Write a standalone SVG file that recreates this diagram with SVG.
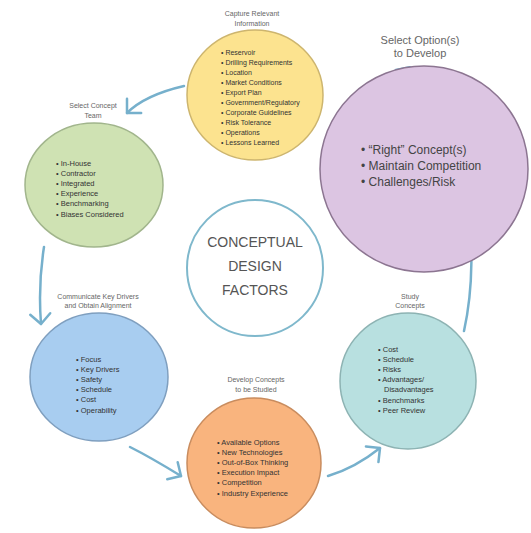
<svg xmlns="http://www.w3.org/2000/svg" width="531" height="533" viewBox="0 0 531 533">
<style>
.lbl{font-family:"Liberation Sans",Arial,sans-serif;font-size:7px;fill:#666;text-anchor:middle}
.bul{font-family:"Liberation Sans",Arial,sans-serif;font-size:7.5px;fill:#333}
.bul7{font-family:"Liberation Sans",Arial,sans-serif;font-size:7px;fill:#333}
.big{font-family:"Liberation Sans",Arial,sans-serif;font-size:12px;fill:#444}
.ctr{font-family:"Liberation Sans",Arial,sans-serif;font-size:14px;fill:#555;text-anchor:middle}
.conn{fill:none;stroke:#76b0cc;stroke-width:2.5;stroke-linecap:round}
</style>
<defs>
<marker id="chev" viewBox="-14 -14 28 28" markerWidth="28" markerHeight="28" refX="0" refY="0" orient="auto" markerUnits="userSpaceOnUse">
<path d="M-10,-10 L0,0 L-10,10" fill="none" stroke="#76b0cc" stroke-width="2.5" stroke-linecap="round" stroke-linejoin="round"/>
</marker>
</defs>
<rect width="531" height="533" fill="#ffffff"/>
<g id="connectors">
<path class="conn" d="M184,86 Q145,95 127,113" marker-end="url(#chev)"/>
<path class="conn" d="M44,247 Q38,285 41,324" marker-end="url(#chev)"/>
<path class="conn" d="M130,447 Q150,457 181,476" marker-end="url(#chev)"/>
<path class="conn" d="M328,476 Q355,468 380,448" marker-end="url(#chev)"/>
<path class="conn" d="M464,331 C482,250 470,120 396,70" marker-end="url(#chev)"/>
</g>
<g id="capture">
<ellipse cx="255" cy="95" rx="68" ry="65" fill="#fce38f" stroke="#cdb56e" stroke-width="1.5"/>
<text class="lbl" x="252" y="16">Capture Relevant</text>
<text class="lbl" x="252" y="26">Information</text>
<text class="bul7" x="221" y="54.5">• Reservoir</text>
<text class="bul7" x="221" y="64.6">• Drilling Requirements</text>
<text class="bul7" x="221" y="74.7">• Location</text>
<text class="bul7" x="221" y="84.8">• Market Conditions</text>
<text class="bul7" x="221" y="94.9">• Export Plan</text>
<text class="bul7" x="221" y="105">• Government/Regulatory</text>
<text class="bul7" x="221" y="115.1">• Corporate Guidelines</text>
<text class="bul7" x="221" y="125.2">• Risk Tolerance</text>
<text class="bul7" x="221" y="135.3">• Operations</text>
<text class="bul7" x="221" y="145.4">• Lessons Learned</text>
</g>
<g id="team">
<ellipse cx="94" cy="185" rx="69" ry="62" fill="#cfe2b3" stroke="#a1b58c" stroke-width="1.5"/>
<text class="lbl" x="93" y="107.5">Select Concept</text>
<text class="lbl" x="93" y="117.5">Team</text>
<text class="bul" x="56" y="165.5">• In-House</text>
<text class="bul" x="56" y="175.7">• Contractor</text>
<text class="bul" x="56" y="185.9">• Integrated</text>
<text class="bul" x="56" y="196.1">• Experience</text>
<text class="bul" x="56" y="206.3">• Benchmarking</text>
<text class="bul" x="56" y="216.5">• Biases Considered</text>
</g>
<g id="communicate">
<ellipse cx="99" cy="377" rx="69" ry="64" fill="#a8cdf0" stroke="#7f9fbf" stroke-width="1.5"/>
<text class="lbl" x="98" y="298.5">Communicate Key Drivers</text>
<text class="lbl" x="98" y="307.5">and Obtain Alignment</text>
<text class="bul" x="76" y="361.5">• Focus</text>
<text class="bul" x="76" y="371.7">• Key Drivers</text>
<text class="bul" x="76" y="381.9">• Safety</text>
<text class="bul" x="76" y="392.1">• Schedule</text>
<text class="bul" x="76" y="402.3">• Cost</text>
<text class="bul" x="76" y="412.5">• Operability</text>
</g>
<g id="develop">
<ellipse cx="254" cy="463" rx="67" ry="65" fill="#f9b47e" stroke="#c98c5e" stroke-width="1.5"/>
<text class="lbl" x="256" y="381.5">Develop Concepts</text>
<text class="lbl" x="256" y="391.5">to be Studied</text>
<text class="bul" x="217" y="444.5">• Available Options</text>
<text class="bul" x="217" y="454.7">• New Technologies</text>
<text class="bul" x="217" y="464.9">• Out-of-Box Thinking</text>
<text class="bul" x="217" y="475.1">• Execution Impact</text>
<text class="bul" x="217" y="485.3">• Competition</text>
<text class="bul" x="217" y="495.5">• Industry Experience</text>
</g>
<g id="study">
<ellipse cx="408" cy="381" rx="68" ry="68" fill="#b8e0e0" stroke="#8db3b3" stroke-width="1.5"/>
<text class="lbl" x="410" y="298.5">Study</text>
<text class="lbl" x="410" y="307.5">Concepts</text>
<text class="bul" x="378" y="351.5">• Cost</text>
<text class="bul" x="378" y="361.7">• Schedule</text>
<text class="bul" x="378" y="371.9">• Risks</text>
<text class="bul" x="378" y="382.1">• Advantages/</text>
<text class="bul" x="384" y="392.3">Disadvantages</text>
<text class="bul" x="378" y="402.5">• Benchmarks</text>
<text class="bul" x="378" y="412.7">• Peer Review</text>
</g>
<g id="select">
<ellipse cx="424" cy="169" rx="104" ry="103" fill="#dcc5e2" stroke="#8c7591" stroke-width="1.5"/>
<text class="lbl" style="font-size:11px" x="420" y="44">Select Option(s)</text>
<text class="lbl" style="font-size:11px" x="420" y="57">to Develop</text>
<text class="big" x="361" y="154">• “Right” Concept(s)</text>
<text class="big" x="361" y="170">• Maintain Competition</text>
<text class="big" x="361" y="186">• Challenges/Risk</text>
</g>
<g id="center">
<circle cx="255" cy="268" r="68" fill="#ffffff" stroke="#7fb8cc" stroke-width="2"/>
<text class="ctr" x="255" y="247">CONCEPTUAL</text>
<text class="ctr" x="255" y="271">DESIGN</text>
<text class="ctr" x="255" y="295">FACTORS</text>
</g>
</svg>
